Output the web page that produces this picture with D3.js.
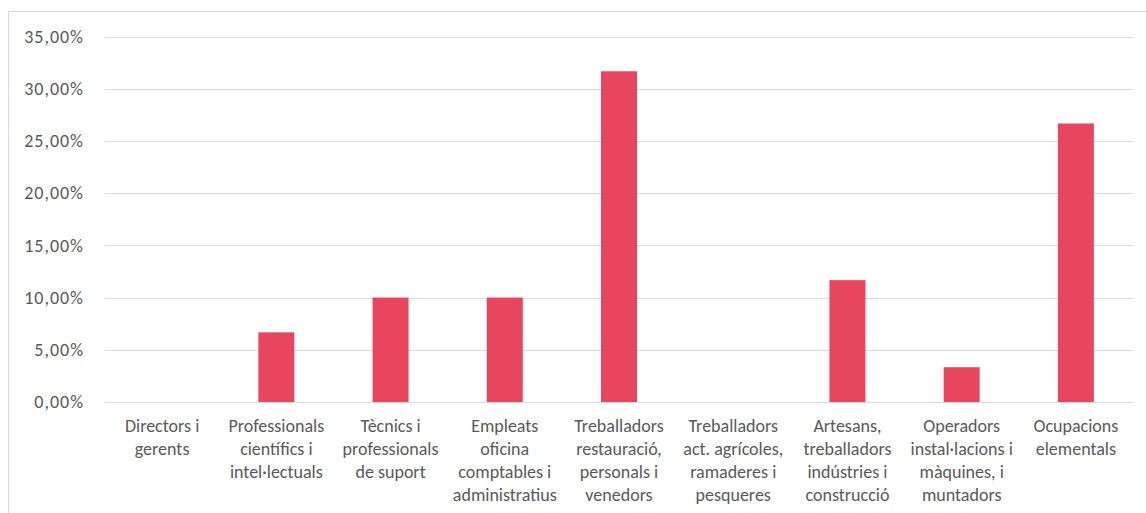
<!DOCTYPE html>
<html><head><meta charset="utf-8">
<script src="https://cdn.jsdelivr.net/npm/d3@7"></script>
<style>
html,body{margin:0;padding:0;background:#fff;}
text{font-family:Carlito,Lato,"Open Sans","Liberation Sans",sans-serif;fill:#595959;}
</style></head>
<body>
<svg id="c" width="1146" height="513"></svg>
<script>
const categories = [
  "Directors i\ngerents",
  "Professionals\ncientífics i\nintel·lectuals",
  "Tècnics i\nprofessionals\nde suport",
  "Empleats\noficina\ncomptables i\nadministratius",
  "Treballadors\nrestauració,\npersonals i\nvenedors",
  "Treballadors\nact. agrícoles,\nramaderes i\npesqueres",
  "Artesans,\ntreballadors\nindústries i\nconstrucció",
  "Operadors\ninstal·lacions i\nmàquines, i\nmuntadors",
  "Ocupacions\nelementals"
];
const values = [0, 6.67, 10.0, 10.0, 31.67, 0, 11.67, 3.33, 26.67];
const yTicks = [0, 5, 10, 15, 20, 25, 30, 35];

(function(){
const svg = d3.select("#c");
svg.append("rect").attr("x",8.5).attr("y",11.5).attr("width",1146).attr("height",520)
  .attr("fill","none").attr("stroke","#d9d9d9").attr("stroke-width",1);

const pLeft = 105, pRight = 1133, pTop = 36.5, pBottom = 402;
const x = d3.scaleBand().domain(categories).range([pLeft,pRight]).paddingInner(0.685).paddingOuter(0.3425);
const y = d3.scaleLinear().domain([0,35]).range([pBottom, pTop]);

const fmt = v => v.toFixed(2).replace(".", ",") + "%";

svg.append("g").selectAll("line").data(yTicks).join("line")
  .attr("x1",pLeft).attr("x2",pRight)
  .attr("y1",d=>Math.round(y(d))+0.5).attr("y2",d=>Math.round(y(d))+0.5)
  .attr("stroke","#d9d9d9").attr("stroke-width",1);

const yAxis = svg.append("g").attr("transform",`translate(${pLeft},0)`)
  .call(d3.axisLeft(y).tickValues(yTicks).tickFormat(fmt).tickSize(0).tickPadding(21));
yAxis.select(".domain").remove();
yAxis.selectAll("text").attr("font-size","18px").attr("letter-spacing","1px")
  .style("font-family",'Carlito,Lato,"Open Sans",sans-serif').attr("fill","#595959");

svg.append("g").selectAll("rect").data(values).join("rect")
  .attr("x",(d,i)=>x(categories[i]))
  .attr("width",x.bandwidth())
  .attr("y",d=>y(d))
  .attr("height",d=>pBottom - y(d))
  .attr("fill","#E8455E");

const xAxis = svg.append("g").attr("transform",`translate(0,${pBottom})`)
  .call(d3.axisBottom(x).tickSize(0).tickFormat(""));
xAxis.select(".domain").remove();
xAxis.selectAll(".tick").each(function(d){
  const lines = d.split("\n");
  const t = d3.select(this).append("text").attr("text-anchor","middle")
    .attr("font-size","18px").attr("fill","#595959");
  lines.forEach((l,k)=>t.append("tspan").attr("x",0).attr("y",30 + k*23).text(l));
});
})();
</script>
</body></html>
